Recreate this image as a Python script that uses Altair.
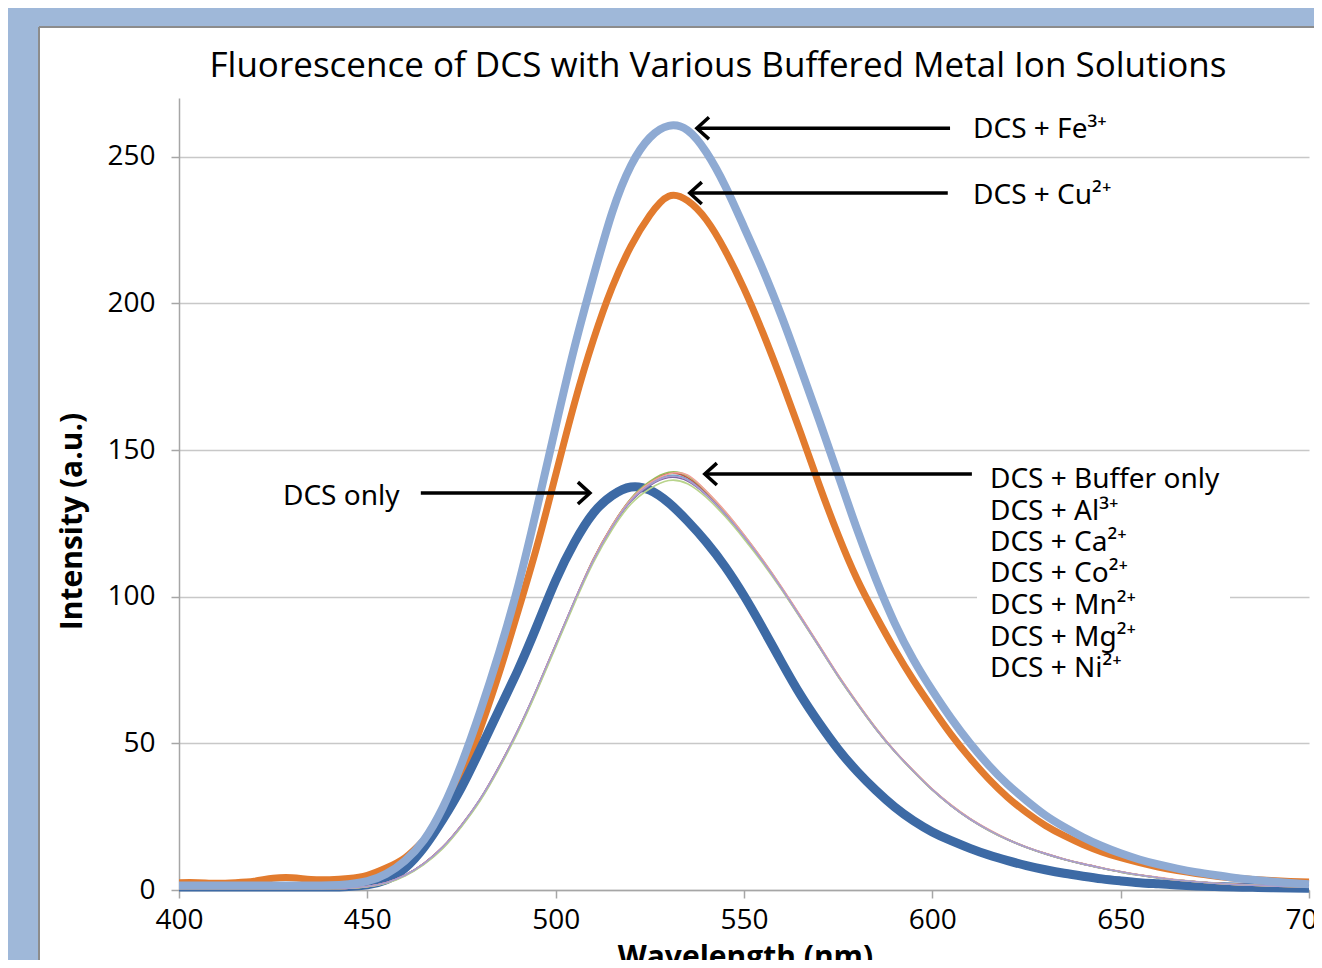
import altair as alt
import pandas as pd

# ---------------- data ----------------
nm = list(range(400, 701, 5))

dcs_only = [1, 1, 1, 1, 1, 1, 1, 1, 1, 1.2,
            1.8, 3.5, 7.5, 14.5, 24, 35, 48, 61.5, 75, 90,
            105.5, 118.5, 128.5, 134.5, 137.4, 136.3, 132, 125.8, 118.6, 110.2,
            100.3, 89.2, 77.6, 66.5, 56.8, 48, 40.5, 34, 28.3, 23.6,
            19.8, 16.8, 14.2, 11.9, 10, 8.3, 6.9, 5.7, 4.7, 3.8,
            3.1, 2.5, 2.1, 1.7, 1.4, 1.2, 1, 0.9, 0.8, 0.7, 0.6]

fe = [1.5, 1.5, 1.5, 1.5, 1.5, 1.5, 1.5, 1.5, 1.6, 2,
      3, 5.5, 10, 17, 28, 43, 61, 81, 103.5, 130,
      158, 185, 209, 231, 247, 256.5, 260.5, 259, 251.5, 240,
      226, 211.5, 195.5, 178, 160, 141.5, 123, 106, 91, 78.5,
      68, 58.5, 50, 42.5, 36, 30.5, 25.5, 21.5, 18, 15,
      12.5, 10.4, 8.7, 7.3, 6.1, 5.1, 4.2, 3.5, 2.9, 2.4, 2]

cu = [2.5, 2.5, 2.3, 2.5, 3, 4, 4.2, 3.6, 3.5, 3.9,
      5, 7.5, 11, 17, 25, 38, 55, 74, 95, 117,
      141.5, 166, 187.5, 205.5, 219.5, 230, 236.5, 235, 228.5, 218,
      205, 190, 173.5, 156, 138, 121, 106, 93.5, 82, 71.5,
      62, 53, 45, 37.8, 31.6, 26.4, 22, 18.5, 15.5, 13,
      11, 9.3, 7.8, 6.6, 5.6, 4.8, 4.1, 3.6, 3.2, 2.9, 2.7]

buffer_only = [0.5, 0.5, 0.5, 0.5, 0.5, 0.5, 0.5, 0.5, 0.5, 0.6,
               1.2, 2.5, 5, 9, 14.5, 22, 31, 42, 54.5, 68.5,
               83.5, 98.5, 112.5, 124, 133, 138.5, 141.3, 140, 135, 128.3,
               120.5, 112, 102.8, 93, 83, 73, 63.7, 55, 47.3, 40.5,
               34.2, 28.8, 24.2, 20.4, 17.2, 14.6, 12.4, 10.5, 8.9, 7.5,
               6.2, 5.1, 4.2, 3.4, 2.8, 2.3, 1.9, 1.6, 1.4, 1.2, 1.1]

al = [0.5, 0.5, 0.5, 0.5, 0.5, 0.5, 0.5, 0.5, 0.5, 0.6,
      1.2, 2.5, 5, 9.1, 14.7, 22.2, 31.1, 42.2, 54.6, 68.6,
      83.7, 98.6, 112.8, 124.3, 133.4, 139, 142, 140.6, 135.4, 128.5,
      120.7, 112.2, 102.9, 93.1, 83, 73, 63.7, 55, 47.3, 40.5,
      34.2, 28.8, 24.2, 20.4, 17.2, 14.6, 12.4, 10.5, 8.9, 7.5,
      6.2, 5.1, 4.2, 3.4, 2.8, 2.3, 1.9, 1.6, 1.4, 1.2, 1.1]

ca = [0.5, 0.5, 0.5, 0.5, 0.5, 0.5, 0.5, 0.5, 0.5, 0.6,
      1.1, 2.4, 4.9, 8.8, 14.3, 21.8, 30.8, 41.8, 54.2, 68.2,
      83.2, 98.3, 112.6, 124.2, 133.5, 139.3, 142.4, 141.2, 135.8, 128.9,
      121, 112.4, 103.1, 93.3, 83.3, 73.2, 63.9, 55.2, 47.4, 40.6,
      34.3, 28.9, 24.3, 20.5, 17.3, 14.6, 12.4, 10.5, 8.9, 7.5,
      6.2, 5.1, 4.2, 3.4, 2.8, 2.3, 1.9, 1.6, 1.4, 1.2, 1.1]

co = [0.5, 0.5, 0.5, 0.5, 0.5, 0.5, 0.5, 0.5, 0.5, 0.6,
      1.2, 2.5, 5, 9, 14.5, 22, 31, 42, 54.3, 68.3,
      83.3, 98.3, 112.2, 123.6, 132.5, 137.9, 140.6, 139.4, 134.6, 128,
      120.3, 111.8, 102.6, 92.8, 82.8, 72.8, 63.6, 54.9, 47.2, 40.4,
      34.1, 28.7, 24.1, 20.3, 17.1, 14.5, 12.3, 10.4, 8.8, 7.4,
      6.1, 5, 4.1, 3.4, 2.8, 2.3, 1.9, 1.6, 1.4, 1.2, 1.1]

mn = [0.5, 0.5, 0.5, 0.5, 0.5, 0.5, 0.5, 0.5, 0.5, 0.6,
      1.2, 2.5, 5, 9, 14.5, 22, 31, 42, 54.5, 68.5,
      83.5, 98.5, 112.6, 124.2, 133.2, 138.8, 141.8, 141.5, 136, 129.1,
      121.1, 112.5, 103.2, 93.4, 83.4, 73.3, 64, 55.2, 47.5, 40.7,
      34.4, 29, 24.4, 20.6, 17.3, 14.7, 12.5, 10.6, 9, 7.6,
      6.3, 5.2, 4.3, 3.5, 2.9, 2.4, 2, 1.7, 1.4, 1.2, 1.1]

mg = [0.5, 0.5, 0.5, 0.5, 0.5, 0.5, 0.5, 0.5, 0.5, 0.6,
      1.1, 2.3, 4.8, 8.7, 14.1, 21.6, 30.5, 41.5, 53.8, 67.8,
      82.7, 97.7, 111.6, 122.9, 131.6, 136.8, 139.6, 138.5, 133.8, 127.3,
      119.7, 111.4, 102.3, 92.6, 82.7, 72.7, 63.5, 54.8, 47.1, 40.3,
      34, 28.7, 24.1, 20.3, 17.1, 14.5, 12.3, 10.4, 8.8, 7.4,
      6.1, 5, 4.1, 3.4, 2.8, 2.3, 1.9, 1.6, 1.4, 1.2, 1.1]

ni = [0.5, 0.5, 0.5, 0.5, 0.5, 0.5, 0.5, 0.5, 0.5, 0.6,
      1.2, 2.5, 5, 9, 14.6, 22.1, 31.1, 42.1, 54.6, 68.6,
      83.6, 98.6, 112.4, 123.8, 132.8, 138.2, 141, 139.8, 134.8, 128.2,
      120.5, 112, 102.8, 93, 83, 73, 63.7, 55, 47.3, 40.5,
      34.2, 28.8, 24.2, 20.4, 17.2, 14.6, 12.4, 10.5, 8.9, 7.5,
      6.2, 5.1, 4.2, 3.4, 2.8, 2.3, 1.9, 1.6, 1.4, 1.2, 1.1]

thin_names = ["DCS + Buffer only", "DCS + Al³⁺", "DCS + Ca²⁺", "DCS + Co²⁺",
              "DCS + Mn²⁺", "DCS + Mg²⁺", "DCS + Ni²⁺"]
thin_series = [buffer_only, al, ca, co, mn, mg, ni]
thin_colors = ["#4bacc6", "#c0504d", "#9bbb59", "#8064a2", "#f2a29b", "#b9d48c", "#a99bd0"]

# arrows (data coordinates)
arrow_start_nm = [604.7, 604.1, 610.5, 464.2]
arrow_end_nm = [537.5, 535.6, 539.6, 509.1]
arrow_value = [259.7, 237.6, 141.8, 135.3]
arrow_dir = ["left", "left", "left", "right"]

# annotation labels
label_text = ["DCS + Fe³⁺", "DCS + Cu²⁺", "DCS only"] + thin_names
label_nm = [610.8, 610.8, 427.6] + [615.3] * 7
label_value = [259.0, 236.5, 133.9, 139.8, 129.0, 118.2, 107.6, 96.8, 86.0, 75.2]

x_ticks = [400, 450, 500, 550, 600, 650, 700]
y_ticks = [0, 50, 100, 150, 200, 250]

# ---------------- encodings ----------------
FONT = "Open Sans"
LABEL_FONT = "Noto Sans"
x_scale = alt.Scale(domain=[400, 700], nice=False, zero=False)
y_scale = alt.Scale(domain=[0, 270], nice=False, zero=True)
x_axis = alt.Axis(values=x_ticks, title="Wavelength (nm)", grid=False, tickSize=8,
                  labelPadding=8, labelFlush=False, labelOverlap=False,
                  titleX=566, titleY=67, titleBaseline="middle", titleAlign="center")
y_axis = alt.Axis(values=y_ticks, title="Intensity (a.u.)", grid=True, tickSize=8,
                  labelPadding=16, labelOverlap=False,
                  titleX=-107, titleY=423, titleAngle=270, titleBaseline="middle",
                  titleAlign="center")


def X(field="nm"):
    return alt.X(f"{field}:Q", scale=x_scale, axis=x_axis)


def Y(field="value"):
    return alt.Y(f"{field}:Q", scale=y_scale, axis=y_axis)


def thick(arr, color, width):
    df = pd.DataFrame({"nm": nm, "value": arr})
    return alt.Chart(df).mark_line(color=color, strokeWidth=width,
                                   interpolate="natural").encode(x=X(), y=Y())


thin_df = pd.DataFrame([{"nm": w, "value": v, "series": name}
                        for name, arr in zip(thin_names, thin_series)
                        for w, v in zip(nm, arr)])

thin_layer = alt.Chart(thin_df).mark_line(strokeWidth=1.6, interpolate="natural").encode(
    x=X(), y=Y(),
    color=alt.Color("series:N", scale=alt.Scale(domain=thin_names, range=thin_colors), legend=None),
)

arrows_df = pd.DataFrame({"nm": arrow_start_nm, "nm_end": arrow_end_nm,
                          "value": arrow_value, "dir": arrow_dir})
shafts = alt.Chart(arrows_df).mark_rule(color="black", strokeWidth=3.5).encode(
    x=X(), x2=alt.X2("nm_end"), y=Y())
heads = alt.Chart(arrows_df).mark_point(filled=False, color="black", strokeWidth=3.5,
                                        size=480, opacity=1, strokeJoin="miter").encode(
    x=X("nm_end"), y=Y(),
    shape=alt.Shape("dir:N", scale=alt.Scale(domain=["left", "right"],
                                             range=["M 1.1 -1 L 0 0 L 1.1 1",
                                                    "M -1.1 -1 L 0 0 L -1.1 1"]),
                    legend=None),
)

labels_df = pd.DataFrame({"nm": label_nm, "value": label_value, "label": label_text})
labels = alt.Chart(labels_df).mark_text(align="left", baseline="middle", font=LABEL_FONT,
                                        fontSize=28, color="black").encode(
    x=X(), y=Y(), text="label:N")

# ---------------- decoration (slide background / frame) ----------------
dummy = alt.Data(values=[{"k": 1}])
slide_blue = "#9fb8d9"
blue_left = alt.Chart(dummy).mark_rect(color=slide_blue).encode(
    x=alt.value(-171), x2=alt.value(-140), y=alt.value(-90), y2=alt.value(862))
blue_top = alt.Chart(dummy).mark_rect(color=slide_blue).encode(
    x=alt.value(-171), x2=alt.value(1135), y=alt.value(-90), y2=alt.value(-71))
frame_v = alt.Chart(dummy).mark_rule(color="#8c8c8c", strokeWidth=2).encode(
    x=alt.value(-140), y=alt.value(-71), y2=alt.value(862))
frame_h = alt.Chart(dummy).mark_rule(color="#8c8c8c", strokeWidth=2).encode(
    x=alt.value(-140), x2=alt.value(1135), y=alt.value(-71))
label_box = alt.Chart(dummy).mark_rect(color="white").encode(
    x=alt.value(798), x2=alt.value(1051), y=alt.value(366), y2=alt.value(590))

chart = alt.layer(
    blue_left, blue_top, frame_v, frame_h, label_box,
    thick(cu, "#e27b2e", 7),
    thick(dcs_only, "#3d6aa5", 9),
    thin_layer,
    thick(fe, "#8eaad3", 8),
    shafts, heads, labels,
).properties(
    width=1130, height=792,
    title=alt.TitleParams(text="Fluorescence of DCS with Various Buffered Metal Ion Solutions",
                          font=FONT, fontSize=35, fontWeight="normal", color="black",
                          anchor="middle", dx=-26, offset=-76),
    autosize=alt.AutoSizeParams(type="none"),
    padding={"left": 171, "top": 90, "right": 5, "bottom": 70},
    background="white",
).configure_view(stroke=None).configure_axis(
    labelFont=FONT, labelFontSize=28, labelColor="black",
    titleFont=FONT, titleFontSize=30, titleFontWeight="bold", titleColor="black",
    domainColor="#a6a6a6", domainWidth=1.5,
    tickColor="#a6a6a6", tickWidth=1.5,
    gridColor="#c8c8c8", gridWidth=1.5,
)

chart.save("out.html", embed_options={"renderer": "svg", "actions": False})
